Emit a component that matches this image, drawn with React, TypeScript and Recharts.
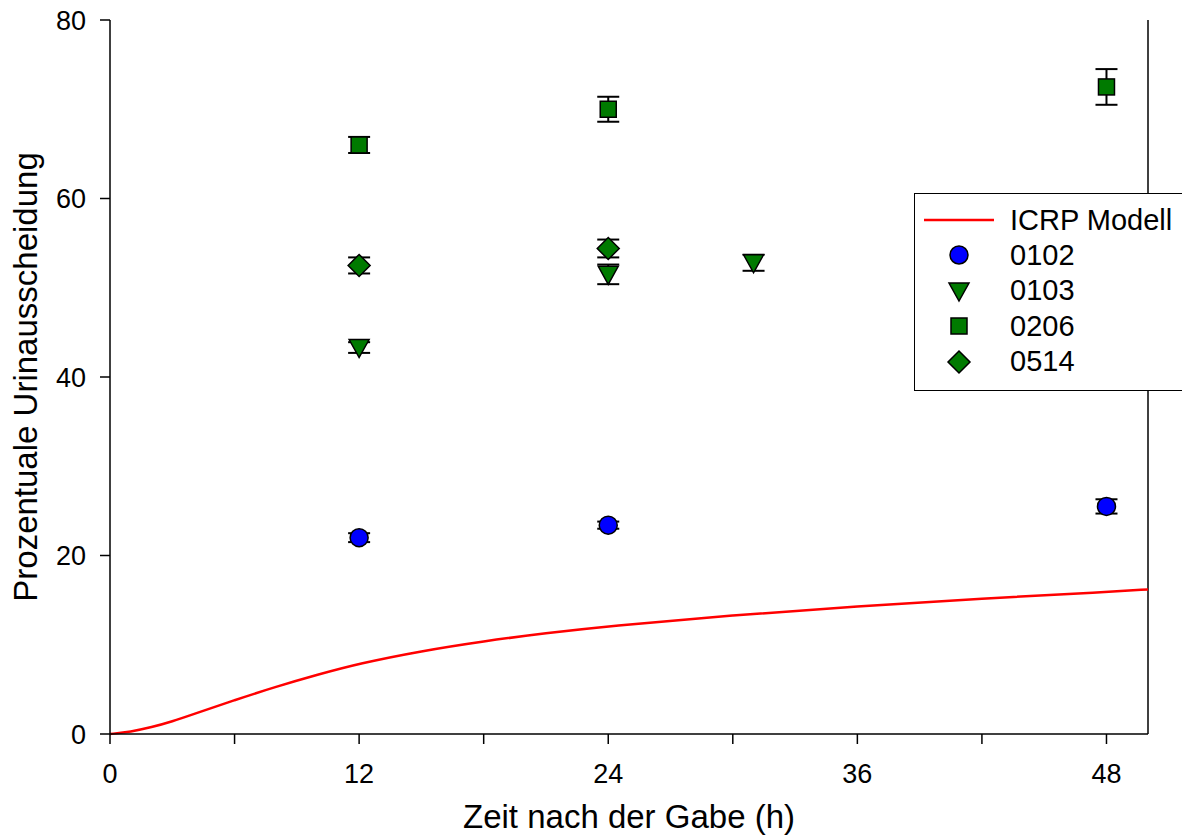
import React from "react";
import {
  ComposedChart,
  Line,
  Scatter,
  ErrorBar,
  XAxis,
  YAxis,
  ReferenceLine,
} from "recharts";

// ICRP model curve (h, %)
const icrpModell = [
  { x: 0, y: 0 },
  { x: 1, y: 0.25 },
  { x: 2, y: 0.75 },
  { x: 3, y: 1.4 },
  { x: 4, y: 2.2 },
  { x: 6, y: 3.8 },
  { x: 8, y: 5.3 },
  { x: 10, y: 6.65 },
  { x: 12, y: 7.9 },
  { x: 15, y: 9.3 },
  { x: 18, y: 10.4 },
  { x: 21, y: 11.3 },
  { x: 24, y: 12.1 },
  { x: 30, y: 13.3 },
  { x: 36, y: 14.3 },
  { x: 42, y: 15.2 },
  { x: 48, y: 15.9 },
  { x: 50, y: 16.2 },
];

const p0102 = [
  { x: 12, y: 22.0, err: 0.5 },
  { x: 24, y: 23.4, err: 0.4 },
  { x: 48, y: 25.5, err: 0.8 },
];
const p0103 = [
  { x: 12, y: 43.3, err: 0.6 },
  { x: 24, y: 51.5, err: 1.1 },
  { x: 31, y: 52.8, err: 0.9 },
];
const p0206 = [
  { x: 12, y: 66.0, err: 0.9 },
  { x: 24, y: 70.0, err: 1.4 },
  { x: 48, y: 72.5, err: 2.0 },
];
const p0514 = [
  { x: 12, y: 52.5, err: 0.9 },
  { x: 24, y: 54.4, err: 1.0 },
];

const xTicks = [0, 6, 12, 18, 24, 30, 36, 42, 48];
const xLabels = [0, 12, 24, 36, 48];
const yTicks = [0, 20, 40, 60, 80];

const FONT = "'Liberation Sans', Arial, sans-serif";
const GREEN = "#007a00";

type Shape = "circle" | "triangle" | "square" | "diamond";

function marker(kind: Shape, cx: number, cy: number, fill: string) {
  const common = { fill, stroke: "#000", strokeWidth: 1.5 };
  if (kind === "circle") return <circle cx={cx} cy={cy} r={9} {...common} />;
  if (kind === "triangle")
    return (
      <polygon
        points={`${cx - 10},${cy - 8} ${cx + 10},${cy - 8} ${cx},${cy + 10}`}
        {...common}
      />
    );
  if (kind === "square")
    return <rect x={cx - 8} y={cy - 8} width={16} height={16} {...common} />;
  return (
    <polygon
      points={`${cx},${cy - 11} ${cx + 11},${cy} ${cx},${cy + 11} ${cx - 11},${cy}`}
      {...common}
    />
  );
}

const series: { name: string; data: typeof p0102; shape: Shape; fill: string }[] = [
  { name: "0102", data: p0102, shape: "circle", fill: "#0000ff" },
  { name: "0103", data: p0103, shape: "triangle", fill: GREEN },
  { name: "0206", data: p0206, shape: "square", fill: GREEN },
  { name: "0514", data: p0514, shape: "diamond", fill: GREEN },
];

const ROW = 35.4;
const FIRST = 26;

function LegendBox() {
  const row = (i: number, icon: React.ReactNode, text: string) => (
    <div
      key={text}
      style={{
        position: "absolute",
        left: 0,
        top: FIRST + i * ROW - 15,
        height: 30,
        display: "flex",
        alignItems: "center",
      }}
    >
      <svg width={95} height={30} style={{ flex: "none" }}>
        {icon}
      </svg>
      <span style={{ whiteSpace: "nowrap" }}>{text}</span>
    </div>
  );
  return (
    <div
      style={{
        position: "absolute",
        left: 914,
        top: 193,
        width: 290,
        height: 198,
        border: "1.5px solid #000",
        background: "#fff",
        fontFamily: FONT,
        fontSize: 29,
        boxSizing: "border-box",
        lineHeight: 1,
      }}
    >
      {row(
        0,
        <line x1={9} x2={79} y1={15} y2={15} stroke="#ff0000" strokeWidth={2.5} />,
        "ICRP Modell"
      )}
      {series.map((s, i) => row(i + 1, marker(s.shape, 44, 15, s.fill), s.name))}
    </div>
  );
}

export default function App() {
  return (
    <div style={{ width: 1182, height: 839, position: "relative", overflow: "hidden" }}>
      <style>{`body{margin:0;background:#fff}`}</style>
      <ComposedChart
        width={1182}
        height={839}
        margin={{ top: 20, right: 34, bottom: 0, left: 0 }}
        style={{ fontFamily: FONT }}
      >
        <XAxis
          type="number"
          dataKey="x"
          domain={[0, 50]}
          ticks={xTicks}
          allowDataOverflow
          tickFormatter={(v: number) => (xLabels.includes(v) ? String(v) : "")}
          stroke="#000"
          strokeWidth={1.5}
          tickSize={10}
          tick={{ fill: "#000", fontSize: 27, dy: 18 }}
          height={105}
          label={{
            value: "Zeit nach der Gabe (h)",
            position: "insideBottom",
            offset: 11,
            fill: "#000",
            fontSize: 33,
          }}
        />
        <YAxis
          type="number"
          domain={[0, 80]}
          ticks={yTicks}
          stroke="#000"
          strokeWidth={1.5}
          tickSize={10}
          tick={{ fill: "#000", fontSize: 27, dx: -12 }}
          width={110}
          label={{
            value: "Prozentuale Urinausscheidung",
            angle: -90,
            position: "insideLeft",
            offset: 25,
            style: { textAnchor: "middle" },
            fill: "#000",
            fontSize: 33,
          }}
        />
        <ReferenceLine x={50} stroke="#000" strokeWidth={1.5} />
        <Line
          data={icrpModell}
          dataKey="y"
          type="basis"
          stroke="#ff0000"
          strokeWidth={2.5}
          dot={false}
          isAnimationActive={false}
        />
        {series.map((s) => (
          <Scatter
            key={s.name}
            name={s.name}
            data={s.data}
            dataKey="y"
            isAnimationActive={false}
            shape={(p: any) => marker(s.shape, p.cx, p.cy, s.fill)}
          >
            <ErrorBar dataKey="err" direction="y" width={11} stroke="#000" strokeWidth={2} />
          </Scatter>
        ))}
      </ComposedChart>
      <LegendBox />
    </div>
  );
}
